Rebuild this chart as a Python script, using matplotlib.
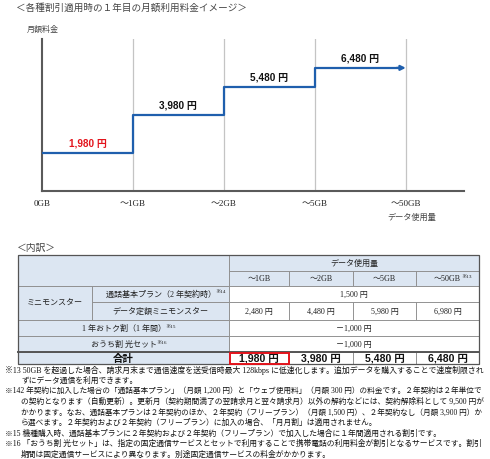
import matplotlib.pyplot as plt
from matplotlib.patches import Rectangle

# chart data
tiers = ["0GB", "～1GB", "～2GB", "～5GB", "～50GB"]
table_tiers = ["～1GB", "～2GB", "～5GB", "～50GB"]
call_plan = 1500
data_plan = [2480, 4480, 5980, 6980]
otoku_discount = -1000
ouchi_discount = -1000
totals = [call_plan + d + otoku_discount + ouchi_discount for d in data_plan]

notes = [
    ("※13 50GB を超過した場合、請求月末まで通信速度を送受信時最大 128kbps に低速化します。追加データを購入することで速度制限され", 0, True),
    ("ずにデータ通信を利用できます。", 1, False),
    ("※142 年契約に加入した場合の「通話基本プラン」（月額 1,200 円）と「ウェブ使用料」（月額 300 円）の料金です。２年契約は２年単位で", 0, True),
    ("の契約となります（自動更新）。更新月（契約期間満了の翌請求月と翌々請求月）以外の解約などには、契約解除料として 9,500 円が", 1, True),
    ("かかります。なお、通話基本プランは２年契約のほか、２年契約（フリープラン）（月額 1,500 円）、２年契約なし（月額 3,900 円）か", 1, True),
    ("ら選べます。２年契約および２年契約（フリープラン）に加入の場合、「月月割」は適用されません。", 1, False),
    ("※15 機種購入時、通話基本プランに２年契約および２年契約（フリープラン）で加入した場合に１年間適用される割引です。", 0, False),
    ("※16 「おうち割 光セット」は、指定の固定通信サービスとセットで利用することで携帯電話の利用料金が割引となるサービスです。割引", 0, True),
    ("期間は固定通信サービスにより異なります。別途固定通信サービスの料金がかかります。", 1, False),
]

JP = ["Noto Sans CJK JP"]
SERIF = ["Liberation Serif", "Noto Sans CJK JP"]
SANS = ["Liberation Sans", "Noto Sans CJK JP"]
BLUE = "#1f5fad"
RED = "#e3141c"
CELL_BLUE = "#dce6f2"
LINE = "#8a8a8a"


def yen(v):
    s = f"{abs(v):,} 円"
    return ("－" + s) if v < 0 else s


fig = plt.figure(figsize=(4.9, 4.6), dpi=100)

# ---- step chart ----
ax = fig.add_axes([42 / 490, 1 - 192 / 460, (464 - 42) / 490, (192 - 40) / 460])
ax.set_xlim(0, 4.64)
ax.set_ylim(0, 8000)
for x in range(1, len(tiers)):
    ax.axvline(x, color="#c4c4c4", lw=0.9, zorder=1)
xs = list(range(len(totals) + 1))
ax.step(xs[:-1] + [xs[-1] - 0.08], totals + [totals[-1]], where="post",
        color=BLUE, lw=1.6, zorder=3)
ax.annotate("", xy=(xs[-1], totals[-1]), xytext=(xs[-1] - 0.1, totals[-1]),
            arrowprops=dict(arrowstyle="-|>", color=BLUE, lw=1.6,
                            mutation_scale=7, shrinkA=0, shrinkB=0))
for i, v in enumerate(totals):
    ax.annotate(yen(v), xy=(i + 0.5, v), xytext=(0, 4), textcoords="offset points",
                ha="center", va="bottom", fontsize=7.2, fontweight="bold",
                family=SANS, color=RED if i == 0 else "#111111")
ax.set_xticks(range(len(tiers)))
ax.set_xticklabels(tiers, family=SERIF, fontsize=6.5, color="#222222")
ax.set_yticks([])
ax.tick_params(axis="x", length=0, pad=6)
for side in ["top", "right"]:
    ax.spines[side].set_visible(False)
for side in ["left", "bottom"]:
    ax.spines[side].set_color("#5a5a5a")
    ax.spines[side].set_linewidth(1.5)

# ---- overlay in pixel coordinates for titles, table and notes ----
tb = fig.add_axes([0, 0, 1, 1])
tb.set_xlim(0, 490)
tb.set_ylim(460, 0)
tb.axis("off")

tb.text(16, 8, "＜各種割引適用時の１年目の月額利用料金イメージ＞", family=JP,
        fontsize=6.9, color="#444444", va="center", ha="left")
tb.text(27, 29, "月額料金", family=JP, fontsize=5.8, color="#444444", va="center")
tb.text(412, 217, "データ使用量", family=JP, fontsize=5.9, color="#444444",
        va="center", ha="center")
tb.text(17, 248, "＜内訳＞", family=JP, fontsize=7, color="#444444", va="center")

col_x = [18, 92, 229, 289, 353, 416, 479]
row_y = [256, 272, 287, 303, 321, 337, 353, 365]


def cell(c0, c1, r0, r1, text="", fill="white", sup=None, **kw):
    x0, x1 = col_x[c0], col_x[c1]
    y0, y1 = row_y[r0], row_y[r1]
    tb.add_patch(Rectangle((x0, y0), x1 - x0, y1 - y0, facecolor=fill,
                           edgecolor=LINE, lw=0.6, zorder=1))
    if text:
        opts = dict(family=SERIF, fontsize=5.8, color="#222222")
        opts.update(kw)
        t = tb.text((x0 + x1) / 2, (y0 + y1) / 2, text, ha="center", va="center",
                    zorder=3, **opts)
        if sup:
            tb.annotate(sup, xy=(1, 1.05), xycoords=t, ha="left", va="top",
                        family=SERIF, fontsize=3.8, color="#222222")


cell(0, 2, 0, 2, fill=CELL_BLUE)
cell(2, 6, 0, 1, "データ使用量", fill=CELL_BLUE)
for j, name in enumerate(table_tiers):
    cell(2 + j, 3 + j, 1, 2, name, fill=CELL_BLUE,
         sup="※13" if j == len(table_tiers) - 1 else None)
cell(0, 1, 2, 4, "ミニモンスター", fill=CELL_BLUE)
cell(1, 2, 2, 3, "通話基本プラン（2 年契約時）", fill=CELL_BLUE, sup="※14")
cell(2, 6, 2, 3, yen(call_plan))
cell(1, 2, 3, 4, "データ定額ミニモンスター", fill=CELL_BLUE)
for j, v in enumerate(data_plan):
    cell(2 + j, 3 + j, 3, 4, yen(v))
cell(0, 2, 4, 5, "1 年おトク割（1 年間）", fill=CELL_BLUE, sup="※15")
cell(2, 6, 4, 5, yen(otoku_discount))
cell(0, 2, 5, 6, "おうち割 光セット", fill=CELL_BLUE, sup="※16")
cell(2, 6, 5, 6, yen(ouchi_discount))
cell(0, 2, 6, 7, "合計", fill=CELL_BLUE, family=JP, fontsize=7.5,
     fontweight="bold", color="#111111")
for j, v in enumerate(totals):
    cell(2 + j, 3 + j, 6, 7, yen(v), family=SANS, fontsize=7.6,
         fontweight="bold", color="#111111")

tb.add_patch(Rectangle((col_x[0], row_y[0]), col_x[-1] - col_x[0],
                       row_y[-1] - row_y[0], fill=False, edgecolor="#555555",
                       lw=0.9, zorder=4))
tb.plot([col_x[0], col_x[-1]], [row_y[6], row_y[6]], color="#555555", lw=1.4, zorder=4)
tb.add_patch(Rectangle((col_x[2] + 0.5, row_y[6] + 0.5), col_x[3] - col_x[2] - 1,
                       row_y[7] - row_y[6] - 1, fill=False, edgecolor=RED,
                       lw=1.4, zorder=5))

# ---- footnotes ----
renderer = fig.canvas.get_renderer()
for i, (line, indent, full) in enumerate(notes):
    x0 = 5 if indent == 0 else 21
    t = tb.text(x0, 370 + i * 10.6, line, family=SERIF, fontsize=5.6,
                color="#111111", va="center", ha="left")
    if full:
        w = t.get_window_extent(renderer).width
        t.set_fontsize(5.6 * (483 - x0) / w)

fig.savefig("out.png", dpi=100)
